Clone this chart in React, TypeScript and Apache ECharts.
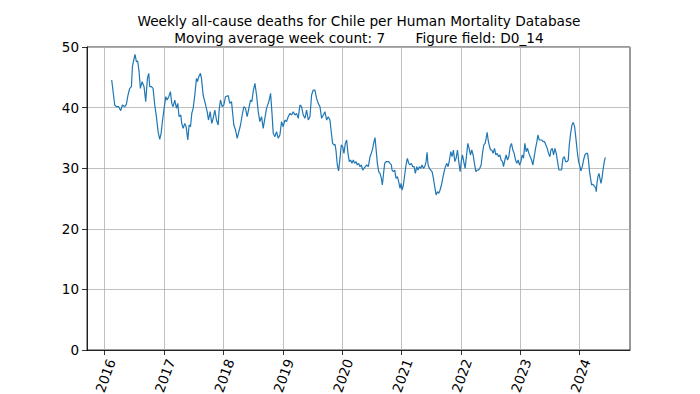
import React, { useEffect, useRef } from "react";
import * as echarts from "echarts";

const weekYear = [
  2016.118, 2016.169, 2016.197, 2016.236, 2016.270, 2016.298, 2016.337, 2016.365, 2016.393, 2016.422,
  2016.450, 2016.467, 2016.495, 2016.511, 2016.534, 2016.556, 2016.579, 2016.601, 2016.630, 2016.663,
  2016.691, 2016.720, 2016.742, 2016.759, 2016.787, 2016.815, 2016.843, 2016.871, 2016.899, 2016.927,
  2016.950, 2016.972, 2017.001, 2017.029, 2017.051, 2017.079, 2017.107, 2017.130, 2017.152, 2017.180,
  2017.209, 2017.231, 2017.253, 2017.282, 2017.298, 2017.321, 2017.349, 2017.372, 2017.400, 2017.422,
  2017.445, 2017.467, 2017.490, 2017.518, 2017.546, 2017.563, 2017.585, 2017.613, 2017.630, 2017.658,
  2017.686, 2017.726, 2017.748, 2017.776, 2017.804, 2017.827, 2017.855, 2017.883, 2017.911, 2017.928,
  2017.950, 2017.979, 2018.007, 2018.035, 2018.080,
  2018.108, 2018.136, 2018.153, 2018.175, 2018.204, 2018.232, 2018.260, 2018.288, 2018.316, 2018.344,
  2018.372, 2018.400, 2018.428, 2018.456, 2018.479, 2018.501, 2018.530, 2018.558, 2018.586, 2018.614,
  2018.642, 2018.670, 2018.698, 2018.726, 2018.754, 2018.771, 2018.794, 2018.816, 2018.839, 2018.867,
  2018.895, 2018.923, 2018.951, 2018.979, 2019.007, 2019.035, 2019.063, 2019.091, 2019.120, 2019.148,
  2019.176, 2019.204, 2019.232, 2019.260, 2019.288, 2019.316, 2019.344, 2019.373, 2019.401, 2019.429,
  2019.457, 2019.485, 2019.513, 2019.541, 2019.569, 2019.597, 2019.626, 2019.654, 2019.682, 2019.710,
  2019.738, 2019.766,
  2019.794, 2019.822, 2019.839, 2019.862, 2019.879, 2019.895, 2019.918, 2019.940, 2019.963, 2019.985,
  2020.008, 2020.030, 2020.053, 2020.075, 2020.098, 2020.120, 2020.143, 2020.165, 2020.188, 2020.210,
  2020.233, 2020.255, 2020.278, 2020.300, 2020.323, 2020.345, 2020.368, 2020.390, 2020.413, 2020.441,
  2020.469, 2020.491, 2020.514, 2020.536, 2020.553, 2020.570, 2020.593, 2020.615, 2020.637, 2020.660,
  2020.677, 2020.694, 2020.716, 2020.739, 2020.761, 2020.784, 2020.806, 2020.829, 2020.840, 2020.862,
  2020.885, 2020.907, 2020.930, 2020.952, 2020.975, 2020.992, 2021.008, 2021.031, 2021.053, 2021.076,
  2021.098, 2021.121, 2021.143, 2021.166, 2021.188, 2021.211, 2021.233, 2021.256, 2021.278, 2021.301,
  2021.323, 2021.346, 2021.368, 2021.391, 2021.413, 2021.430, 2021.447, 2021.469, 2021.492, 2021.514,
  2021.537, 2021.559, 2021.582, 2021.604, 2021.627, 2021.649, 2021.672, 2021.694, 2021.717, 2021.739,
  2021.762, 2021.784, 2021.807, 2021.830, 2021.852, 2021.874, 2021.897, 2021.919, 2021.942, 2021.964,
  2021.987,
  2022.009, 2022.026, 2022.048, 2022.071, 2022.093, 2022.116, 2022.138, 2022.161, 2022.183, 2022.206,
  2022.228, 2022.251, 2022.273, 2022.296, 2022.318, 2022.341, 2022.363, 2022.386, 2022.408, 2022.425,
  2022.442, 2022.459, 2022.476, 2022.498, 2022.521, 2022.543, 2022.566, 2022.588, 2022.611, 2022.633,
  2022.656, 2022.678, 2022.701, 2022.717, 2022.740, 2022.762, 2022.785, 2022.807, 2022.830, 2022.852,
  2022.875, 2022.897, 2022.920, 2022.942, 2022.965, 2022.987, 2023.010, 2023.032, 2023.055, 2023.077,
  2023.100, 2023.122, 2023.145, 2023.167, 2023.190, 2023.212, 2023.235, 2023.257, 2023.280, 2023.297,
  2023.319, 2023.341, 2023.364, 2023.386, 2023.409, 2023.431, 2023.454, 2023.476, 2023.499, 2023.516,
  2023.538, 2023.561, 2023.583, 2023.606, 2023.628, 2023.651, 2023.673, 2023.696, 2023.718, 2023.741,
  2023.763, 2023.786, 2023.808, 2023.825, 2023.848, 2023.870, 2023.892, 2023.915, 2023.937, 2023.960,
  2023.982, 2024.005,
  2024.021, 2024.044, 2024.066, 2024.089, 2024.111, 2024.134, 2024.151, 2024.167, 2024.184, 2024.201,
  2024.218, 2024.235, 2024.252, 2024.269, 2024.280, 2024.291, 2024.308, 2024.325, 2024.342, 2024.359,
  2024.376, 2024.393, 2024.415, 2024.432,
];

const weeklyDeaths = [
  44.55, 40.43, 40.15, 40.15, 39.49, 40.43, 40.15, 40.54, 42.08, 43.18,
  43.45, 46.75, 48.13, 48.79, 47.58, 47.69, 45.93, 43.18, 44.28, 43.45,
  40.98, 44.83, 45.65, 43.45, 43.45, 43.18, 40.43, 38.50, 36.03, 34.76,
  35.75, 37.68, 39.88, 41.80, 41.25, 41.80, 42.63, 40.70, 40.15, 41.25,
  39.88, 40.70, 38.50, 38.78, 37.40, 36.58, 37.40, 36.85, 34.65, 37.13,
  36.85, 39.05, 39.88, 42.08, 44.83, 44.28, 45.10, 45.65, 44.83, 42.08,
  40.98, 39.33, 37.95, 39.33, 37.40, 38.23, 39.60, 37.95, 37.13, 39.60,
  41.25, 40.15, 40.43, 41.80, 41.97,
  40.70, 40.98, 39.33, 37.13, 36.30, 34.93, 36.03, 37.13, 38.78, 40.15,
  39.88, 38.50, 39.88, 41.25, 40.98, 42.63, 44.00, 42.08, 39.33, 37.68,
  38.50, 36.58, 38.23, 39.88, 40.70, 41.25, 42.35, 39.33, 35.75, 35.20,
  36.03, 34.93, 35.48, 37.68, 36.85, 37.95, 37.68, 38.50, 39.05, 38.78,
  39.33, 38.78, 39.05, 38.23, 40.43, 40.15, 38.78, 38.23, 39.60, 37.95,
  38.50, 42.08, 42.90, 42.90, 41.53, 40.70, 40.15, 38.23, 38.78, 39.33,
  37.95, 38.50,
  37.95, 35.48, 34.10, 33.83, 33.94, 33.00, 30.53, 29.54, 31.63, 33.83,
  33.55, 32.45, 34.10, 34.65, 32.45, 31.08, 31.35, 30.80, 31.35, 30.80,
  31.08, 30.53, 30.80, 30.25, 30.53, 29.70, 29.98, 30.25, 30.53, 30.25,
  31.90, 32.45, 33.28, 34.38, 35.04, 33.28, 30.80, 29.43, 29.15, 28.33,
  27.23, 28.88, 30.80, 31.08, 31.08, 31.08, 30.80, 30.53, 29.70, 29.43,
  29.70, 28.33, 28.60, 27.78, 26.68, 27.50, 26.40, 27.23, 28.88, 30.53,
  31.63, 30.80, 30.53, 30.80, 30.25, 30.25, 29.15, 30.25, 29.70, 30.25,
  29.98, 30.53, 29.98, 30.25, 31.08, 32.62, 30.53, 29.98, 29.70, 29.43,
  28.33, 26.95, 25.58, 26.13, 25.85, 26.40, 27.23, 28.33, 29.43, 30.25,
  30.80, 30.25, 31.35, 32.73, 31.90, 33.00, 31.08, 31.63, 33.00, 31.08,
  29.43,
  31.35, 32.18, 31.08, 29.98, 31.90, 34.10, 33.28, 32.18, 33.00, 32.18,
  30.80, 29.43, 29.70, 29.70, 29.98, 30.53, 32.45, 33.83, 34.10, 34.93,
  35.92, 34.65, 33.83, 33.00, 33.00, 32.45, 33.28, 32.18, 32.45, 31.90,
  32.18, 31.35, 31.08, 30.25, 31.35, 32.18, 31.35, 31.90, 33.55, 34.10,
  33.00, 32.45, 31.35, 30.80, 31.35, 30.53, 31.08, 32.18, 31.63, 34.10,
  32.73, 33.28, 32.45, 31.90, 31.35, 30.53, 31.90, 33.28, 34.38, 35.48,
  34.65, 34.65, 34.65, 34.38, 34.38, 33.83, 33.28, 32.45, 31.90, 33.00,
  33.28, 32.18, 33.28, 32.45, 31.08, 29.70, 29.70, 29.70, 31.63, 31.90,
  31.08, 31.08, 31.35, 33.83, 35.75, 37.13, 37.57, 36.85, 34.93, 32.73,
  31.08, 30.25,
  29.54, 30.25, 31.35, 32.18, 32.45, 32.45, 31.08, 29.43, 28.33, 27.23,
  27.34, 27.23, 26.95, 26.79, 26.13, 27.50, 28.60, 29.15, 28.33, 27.50,
  28.33, 29.70, 31.08, 31.79,
];

const yearTicks = [2016, 2017, 2018, 2019, 2020, 2021, 2022, 2023, 2024];
const titleLine1 = "Weekly all-cause deaths for Chile per Human Mortality Database";
const titleLine2 = "Moving average week count: 7       Figure field: D0_14";

export default function App() {
  const ref = useRef<HTMLDivElement>(null);
  useEffect(() => {
    const chart = echarts.init(ref.current!, null, { renderer: "svg" });
    const font = "DejaVu Sans";
    const pts = weekYear.map((y, i) => [y, weeklyDeaths[i]]);
    const titleStyle = {
      fill: "#000",
      fontSize: 13.7,
      fontFamily: font,
      align: "center",
      verticalAlign: "middle",
      textAlign: "center",
      textVerticalAlign: "middle",
    };
    chart.setOption({
      animation: false,
      backgroundColor: "#ffffff",
      textStyle: { fontFamily: font },
      graphic: [
        { type: "text", x: 359, y: 21, style: { ...titleStyle, text: titleLine1 } },
        { type: "text", x: 359, y: 37.5, style: { ...titleStyle, text: titleLine2 } },
      ],
      grid: {
        left: 87,
        right: 70,
        top: 47,
        bottom: 44,
        show: true,
        borderColor: "#000",
        borderWidth: 0.8,
        backgroundColor: "transparent",
        containLabel: false,
        outerBoundsMode: "none",
      },
      xAxis: {
        type: "value",
        min: 2015.702,
        max: 2024.848,
        axisLine: { show: true, onZero: false, lineStyle: { color: "#000", width: 0.8 } },
        axisTick: {
          show: true,
          inside: false,
          length: 5,
          customValues: yearTicks,
          lineStyle: { color: "#000", width: 0.8 },
        },
        axisLabel: {
          show: true,
          customValues: yearTicks,
          rotate: 70,
          align: "right",
          verticalAlign: "top",
          margin: 7,
          color: "#000",
          fontSize: 13.5,
          fontFamily: font,
          formatter: (v: number) => String(Math.round(v)),
        },
        splitLine: { show: false },
      },
      yAxis: {
        type: "value",
        min: 0,
        max: 50,
        interval: 10,
        axisLine: { show: true, lineStyle: { color: "#000", width: 0.8 } },
        axisTick: { show: true, inside: false, length: 5, lineStyle: { color: "#000", width: 0.8 } },
        axisLabel: { color: "#000", fontSize: 13.5, fontFamily: font, margin: 8 },
        splitLine: { show: true, lineStyle: { color: "#b0b0b0", width: 0.8 } },
      },
      series: [
        {
          type: "line",
          data: pts,
          showSymbol: false,
          symbol: "none",
          z: 2,
          lineStyle: { color: "#1f77b4", width: 1.2 },
          markLine: {
            silent: true,
            z: 1,
            symbol: ["none", "none"],
            label: { show: false },
            lineStyle: { color: "#b0b0b0", width: 0.8, type: "solid" },
            data: yearTicks.map((y) => ({ xAxis: y })),
          },
        },
      ],
    });
    return () => chart.dispose();
  }, []);
  return (
    <div
      ref={ref}
      style={{ position: "fixed", left: 0, top: 0, width: 700, height: 394 }}
    />
  );
}
